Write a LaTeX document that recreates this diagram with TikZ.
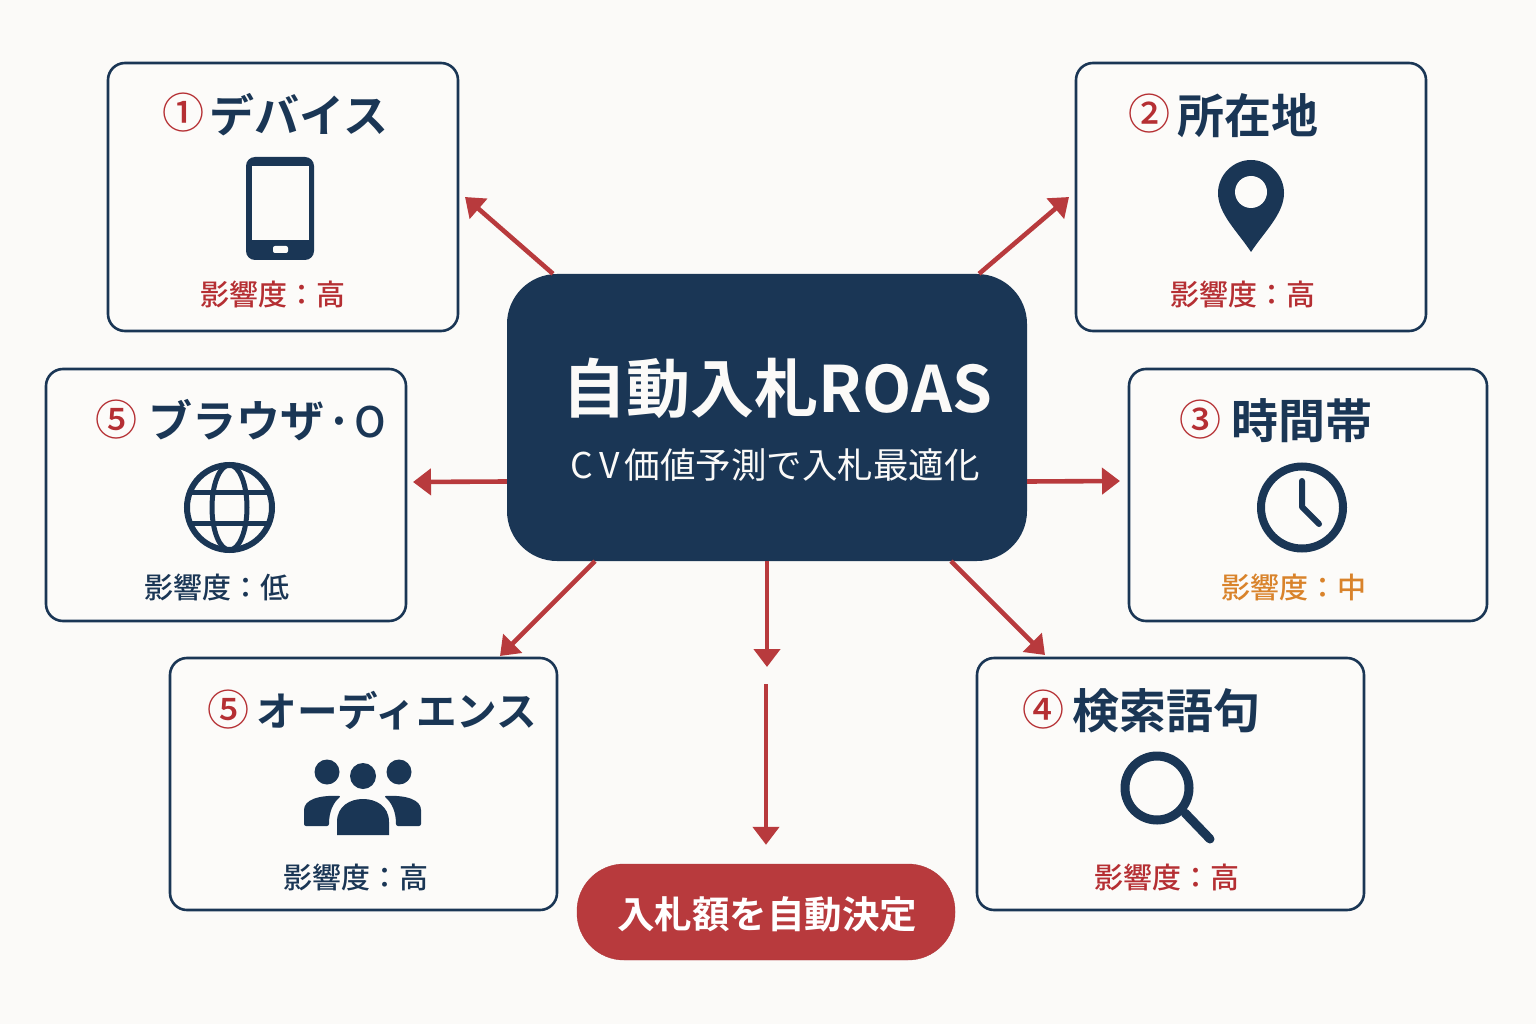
\documentclass[tikz,border=0pt]{standalone}
\usepackage{fontspec}
\setmainfont{Noto Sans CJK JP}[BoldFont={Noto Sans CJK JP Bold}]
\newfontfamily\jpmed{Noto Sans CJK JP Medium}
\usetikzlibrary{arrows.meta}
\definecolor{navy}{HTML}{1A3655}
\definecolor{bgc}{HTML}{FBFAF8}
\definecolor{cardc}{HTML}{FCFBF9}
\definecolor{redc}{HTML}{B83A3D}
\definecolor{redt}{HTML}{B52F33}
\definecolor{orgt}{HTML}{D9832B}

\begin{document}
\begin{tikzpicture}[
        x=1pt, y=-1pt,
        >={Triangle[length=18pt,width=26pt]},
        card/.style={draw=navy, line width=2.6pt, fill=cardc, rounded corners=17pt, inner sep=0pt},
        ttl/.style={font=\fontsize{#1}{#1}\bfseries\selectfont, text=navy, anchor=west, inner sep=0pt},
        num/.style={font=\fontsize{42}{42}\jpmed\selectfont, text=redt, inner sep=0pt},
        lvl/.style={font=\fontsize{29}{29}\jpmed\selectfont, inner sep=0pt},
        e/.style={->, draw=redc, line width=4.6pt},
        ic/.style={draw=navy, fill=none},
        icf/.style={fill=navy}
    ]
        \useasboundingbox[fill=bgc] (0,0) rectangle (1536,1024);

        % cards
        \node[card, minimum width=350pt, minimum height=268pt] (dev) at (283,197) {};
        \node[card, minimum width=350pt, minimum height=268pt] (loc) at (1251,197) {};
        \node[card, minimum width=360pt, minimum height=252pt] (brw) at (226,495) {};
        \node[card, minimum width=358pt, minimum height=252pt] (tim) at (1308,495) {};
        \node[card, minimum width=387pt, minimum height=252pt] (aud) at (363.5,784) {};
        \node[card, minimum width=387pt, minimum height=252pt] (kwd) at (1170.5,784) {};

        % center and result
        \node[fill=navy, rounded corners=50pt, minimum width=520pt, minimum height=287pt, inner sep=0pt] (main) at (767,417.5) {};
        \node[font=\fontsize{64}{64}\bfseries\selectfont, text=bgc, inner sep=0pt] (mainttl) at (777.5,388) {自動入札ROAS};
        \node[font=\fontsize{35.5}{35.5}\selectfont, text=bgc, inner sep=0pt] (mainsub) at (775,465) {C\hspace{6pt}V\hspace{5pt}価値予測で入札最適化};
        \node[draw=redc!95!black, fill=redc, rounded corners=47pt, minimum width=378pt, minimum height=96pt, inner sep=0pt] (bid) at (766,912) {};
        \node[font=\fontsize{37.5}{37.5}\bfseries\selectfont, text=white, inner sep=0pt] (bidttl) at (767,914) {入札額を自動決定};

        % titles
        \node[num] (n1) at (183,113) {①};
        \node[ttl=45] (t1) at (209.5,115) {デバイス};
        \node[num] (n2) at (1149,114) {②};
        \node[ttl=47] (t2) at (1177.5,116) {所在地};
        \node[num] (n3) at (1200,420) {③};
        \node[ttl=47] (t3) at (1231.5,421) {時間帯};
        \node[num] (n4) at (1043,710) {④};
        \node[ttl=47] (t4) at (1072,711) {検索語句};
        \node[num] (n5) at (116,420) {⑤};
        \node[ttl=44] (t5) at (148,420) {ブラウザ\hspace{2pt}·\hspace{2pt}{\jpmed\mdseries\fontsize{42}{42}\selectfont O}};
        \node[num] (n6) at (228,710) {⑤};
        \node[ttl=40.6] (t6) at (256.5,711) {オーディエンス};

        % levels
        \node[lvl, text=redt] (l1) at (273,294) {影響度：高};
        \node[lvl, text=redt] (l2) at (1243,294) {影響度：高};
        \node[lvl, text=navy] (l5) at (217,587) {影響度：低};
        \node[lvl, text=orgt] (l3) at (1294,587) {影響度：中};
        \node[lvl, text=navy] (l6) at (356,877) {影響度：高};
        \node[lvl, text=redt] (l4) at (1166.5,877) {影響度：高};

        % arrows
        \coordinate (a1) at (465,197);
        \coordinate (a2) at (1069,197);
        \coordinate (a3) at (1120,481);
        \coordinate (a5) at (413,482);
        \coordinate (a6) at (500,656);
        \coordinate (a4) at (1045,655);
        \coordinate (a7) at (767,667);
        \coordinate (a8) at (766,684);
        \draw[e] ([xshift=-214pt]main.north) -- (a1);
        \draw[e] ([xshift=212pt]main.north) -- (a2);
        \draw[e] ([yshift=-64pt]main.east) -- (a3);
        \draw[e] ([yshift=-64pt]main.west) -- (a5);
        \draw[e] ([xshift=-172pt]main.south) -- (a6);
        \draw[e] ([xshift=184pt]main.south) -- (a4);
        \draw[e] (main.south) -- (a7);
        \draw[e, shorten >=19pt] (a8) -- (bid.north);

        % phone
        \fill[icf, rounded corners=9pt] (246,157) rectangle (314,260);
        \fill[cardc] (251.5,166) rectangle (308.5,240);
        \fill[cardc, rounded corners=2pt] (273,246) rectangle (288,253);

        % pin
        \fill[icf] (1251,252) .. controls (1238,232) and (1218,214) .. (1218,193) .. controls (1218,175) and (1233,160) .. (1251,160) .. controls (1269,160) and (1284,175) .. (1284,193) .. controls (1284,214) and (1264,232) .. (1251,252) -- cycle;
        \fill[cardc] (1251,192) circle (16pt);

        % globe
        \draw[ic, line width=6pt] (229.5,507.5) circle (42.5pt);
        \draw[ic, line width=5pt] (229.5,507.5) ellipse (17.5pt and 42.5pt);
        \draw[ic, line width=5pt] (189,492) -- (270,492);
        \draw[ic, line width=5pt] (189,523) -- (270,523);

        % clock
        \draw[ic, line width=8pt] (1302,507.5) circle (41pt);
        \draw[ic, line width=6pt, line cap=round, line join=round] (1302,481) -- (1302,507) -- (1319,524);

        % magnifier
        \draw[ic, line width=9pt] (1157,788) circle (32pt);
        \draw[ic, line width=9pt, line cap=round] (1185,813) -- (1210,839);

        % people
        \fill[icf] (327,772) circle (12.5pt);
        \fill[icf] (399,772) circle (12.5pt);
        \fill[icf] (363,776) circle (13pt);
        \fill[icf] (337,835) -- (337,822) .. controls (337,806) and (350,799) .. (363,799) .. controls (376,799) and (389,806) .. (389,822) -- (389,835) -- cycle;
        \fill[icf, rounded corners=2pt] (304,826) -- (304,812) .. controls (304,800) and (318,795) .. (341,796) .. controls (333,803) and (329,812) .. (329,826) -- cycle;
        \fill[icf, rounded corners=2pt] (421,826) -- (421,812) .. controls (421,800) and (407,795) .. (384,796) .. controls (392,803) and (396,812) .. (396,826) -- cycle;
    \end{tikzpicture}
\end{document}
